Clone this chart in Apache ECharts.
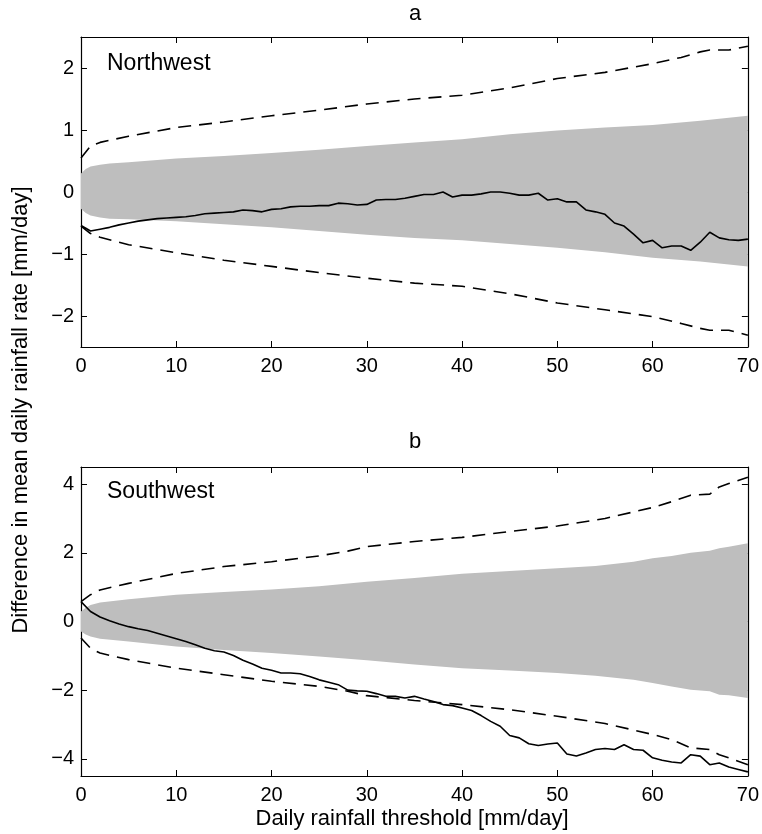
<!DOCTYPE html>
<html>
<head>
<meta charset="utf-8">
<script src="https://cdn.jsdelivr.net/npm/echarts@6/dist/echarts.min.js"></script>
<style>
html,body{margin:0;padding:0;background:#fff;}
#chart{width:762px;height:834px;}
</style>
</head>
<body>
<div id="chart"></div>
<script>
// ---------- DATA ----------
const thresholds = [0,1,2,3,4,5,6,7,8,9,10,11,12,13,14,15,16,17,18,19,20,21,22,23,24,25,26,27,28,29,30,31,32,33,34,35,36,37,38,39,40,41,42,43,44,45,46,47,48,49,50,51,52,53,54,55,56,57,58,59,60,61,62,63,64,65,66,67,68,69,70];

// Panel a (Northwest)
const nwObserved = [-0.54,-0.63,-0.6,-0.57,-0.53,-0.5,-0.47,-0.45,-0.43,-0.42,-0.41,-0.4,-0.38,-0.35,-0.34,-0.33,-0.32,-0.29,-0.3,-0.32,-0.28,-0.27,-0.24,-0.23,-0.23,-0.22,-0.22,-0.18,-0.19,-0.21,-0.2,-0.13,-0.12,-0.12,-0.1,-0.07,-0.04,-0.04,0.0,-0.08,-0.05,-0.05,-0.03,0.0,0.0,-0.02,-0.05,-0.05,-0.02,-0.13,-0.11,-0.16,-0.16,-0.29,-0.32,-0.36,-0.5,-0.55,-0.68,-0.82,-0.78,-0.9,-0.87,-0.87,-0.94,-0.81,-0.65,-0.74,-0.77,-0.78,-0.76];
const nwBandX = [0,0.5,1,2,3,5,10,15,20,25,30,35,40,45,50,55,60,65,70];
const nwBandUpper = [0.3,0.37,0.41,0.44,0.46,0.48,0.54,0.58,0.63,0.68,0.74,0.8,0.85,0.93,0.99,1.04,1.08,1.15,1.23];
const nwBandLower = [-0.27,-0.34,-0.38,-0.41,-0.43,-0.44,-0.47,-0.52,-0.57,-0.63,-0.69,-0.74,-0.78,-0.84,-0.9,-0.97,-1.06,-1.12,-1.2];
const nwDashX = [0,1,2,5,10,15,20,25,30,35,40,45,50,55,60,63,65,66,68,70];
const nwDashUpper = [0.55,0.74,0.8,0.9,1.04,1.13,1.23,1.32,1.42,1.5,1.56,1.68,1.83,1.93,2.07,2.17,2.26,2.29,2.29,2.35];
const nwDashLower = [-0.55,-0.67,-0.73,-0.85,-0.98,-1.1,-1.2,-1.3,-1.39,-1.47,-1.52,-1.64,-1.79,-1.9,-2.01,-2.12,-2.2,-2.23,-2.23,-2.31];

// Panel b (Southwest)
const swObserved = [0.58,0.29,0.13,0.02,-0.07,-0.15,-0.21,-0.26,-0.34,-0.42,-0.5,-0.58,-0.68,-0.78,-0.85,-0.89,-0.99,-1.13,-1.24,-1.36,-1.42,-1.5,-1.5,-1.52,-1.6,-1.7,-1.77,-1.84,-2.0,-2.02,-2.03,-2.1,-2.18,-2.18,-2.23,-2.18,-2.26,-2.33,-2.42,-2.45,-2.52,-2.59,-2.74,-2.91,-3.05,-3.32,-3.39,-3.56,-3.61,-3.57,-3.54,-3.86,-3.92,-3.83,-3.73,-3.7,-3.73,-3.59,-3.73,-3.75,-3.97,-4.04,-4.09,-4.12,-3.88,-3.92,-4.17,-4.12,-4.24,-4.31,-4.38];
const swBandX = [0,0.5,1,2,5,10,15,20,25,30,35,40,45,50,54,58,60,62,64,66,67,68,70];
const swBandUpper = [0.29,0.4,0.48,0.55,0.65,0.78,0.86,0.93,1.03,1.16,1.27,1.39,1.47,1.55,1.62,1.74,1.84,1.91,2.0,2.06,2.13,2.18,2.28];
const swBandLower = [-0.29,-0.38,-0.44,-0.5,-0.58,-0.73,-0.83,-0.92,-1.02,-1.13,-1.25,-1.36,-1.43,-1.5,-1.58,-1.7,-1.79,-1.89,-1.99,-2.03,-2.13,-2.15,-2.23];
const swDashX = [0,1,2,5,10,15,20,25,28,30,35,40,45,50,55,60,62,64,66,67,68,70];
const swDashUpper = [0.58,0.78,0.92,1.11,1.4,1.6,1.74,1.91,2.05,2.18,2.33,2.45,2.62,2.78,3.0,3.32,3.49,3.68,3.71,3.92,4.02,4.2];
const swDashLower = [-0.48,-0.78,-0.92,-1.11,-1.36,-1.55,-1.74,-1.89,-2.03,-2.16,-2.3,-2.42,-2.57,-2.76,-2.97,-3.29,-3.44,-3.68,-3.73,-3.88,-3.97,-4.17];

const xTicks = [0,10,20,30,40,50,60,70];
const nwYTicks = [-2,-1,0,1,2];
const swYTicks = [-4,-2,0,2,4];

// ---------- CHART ----------
const FONT = '"Liberation Sans", Arial, Helvetica, sans-serif';
const pairs = (xs, ys) => xs.map((x, i) => [x, ys[i]]);
const fmt = v => v < 0 ? '\u2212' + (-v) : String(v);

function bandSeries(idx, xs, up, lo) {
  return {
    type: 'custom', xAxisIndex: idx * 2, yAxisIndex: idx * 2, clip: true, silent: true,
    data: [[xs[0], up[0]]],
    renderItem: (params, api) => {
      const pts = [];
      for (let i = 0; i < xs.length; i++) pts.push(api.coord([xs[i], up[i]]));
      for (let i = xs.length - 1; i >= 0; i--) pts.push(api.coord([xs[i], lo[i]]));
      return { type: 'polygon', shape: { points: pts }, style: { fill: '#bebebe', stroke: null } };
    },
    z: 1
  };
}
function lineSeries(idx, data, dashed) {
  return {
    type: 'line', xAxisIndex: idx * 2, yAxisIndex: idx * 2, data: data,
    showSymbol: false, symbol: 'none', silent: true, z: 3,
    lineStyle: { color: '#000', width: 1.6, type: dashed ? [13, 8] : 'solid' }
  };
}

const grids = [
  { left: 81, top: 37, width: 668, height: 310 },
  { left: 81, top: 467, width: 668, height: 309 }
];
const yRanges = [[-2.5, 2.5, nwYTicks], [-4.5, 4.5, swYTicks]];

const xAxes = [], yAxes = [];
grids.forEach((g, i) => {
  const axLine = { show: true, onZero: false, lineStyle: { color: '#000', width: 1.2 } };
  xAxes.push({
    gridIndex: i, type: 'value', position: 'bottom', min: 0, max: 70, interval: 10,
    axisLine: axLine, splitLine: { show: false },
    axisTick: { inside: true, length: 6, lineStyle: { color: '#000' } },
    axisLabel: { fontFamily: FONT, fontSize: 20, color: '#000', margin: 9, formatter: fmt }
  });
  xAxes.push({
    gridIndex: i, type: 'value', position: 'top', min: 0, max: 70, interval: 10,
    axisLine: axLine, splitLine: { show: false },
    axisTick: { inside: true, length: 6, lineStyle: { color: '#000' } },
    axisLabel: { show: false }
  });
  const [mn, mx, ticks] = yRanges[i];
  yAxes.push({
    gridIndex: i, type: 'value', position: 'left', min: mn, max: mx,
    axisLine: axLine, splitLine: { show: false },
    axisTick: { inside: true, length: 6, customValues: ticks, lineStyle: { color: '#000' } },
    axisLabel: { fontFamily: FONT, fontSize: 20, color: '#000', margin: 7, customValues: ticks, formatter: fmt }
  });
  yAxes.push({
    gridIndex: i, type: 'value', position: 'right', min: mn, max: mx,
    axisLine: axLine, splitLine: { show: false },
    axisTick: { inside: true, length: 6, customValues: ticks, lineStyle: { color: '#000' } },
    axisLabel: { show: false }
  });
});

const series = [
  bandSeries(0, nwBandX, nwBandUpper, nwBandLower),
  lineSeries(0, pairs(nwDashX, nwDashUpper), true),
  lineSeries(0, pairs(nwDashX, nwDashLower), true),
  lineSeries(0, pairs(thresholds, nwObserved), false),
  bandSeries(1, swBandX, swBandUpper, swBandLower),
  lineSeries(1, pairs(swDashX, swDashUpper), true),
  lineSeries(1, pairs(swDashX, swDashLower), true),
  lineSeries(1, pairs(thresholds, swObserved), false)
];

const txt = (x, y, text, size, extra) => Object.assign({
  type: 'text', x: x, y: y,
  style: { text: text, font: size + 'px ' + FONT, fill: '#000', align: 'center', verticalAlign: 'middle' }
}, extra || {});

const chart = echarts.init(document.getElementById('chart'), null, { renderer: 'canvas' });
chart.setOption({
  animation: false,
  backgroundColor: '#fff',
  grid: grids,
  xAxis: xAxes,
  yAxis: yAxes,
  series: series,
  graphic: [
    txt(415, 14, 'a', 22),
    txt(415, 442, 'b', 22),
    { type: 'text', left: 107, top: 52, style: { text: 'Northwest', font: '23px ' + FONT, fill: '#000' } },
    { type: 'text', left: 107, top: 480, style: { text: 'Southwest', font: '23px ' + FONT, fill: '#000' } },
    txt(412, 819, 'Daily rainfall threshold [mm/day]', 22),
    txt(21, 410, 'Difference in mean daily rainfall rate [mm/day]', 22, { rotation: Math.PI / 2 })
  ]
});
</script>
</body>
</html>
